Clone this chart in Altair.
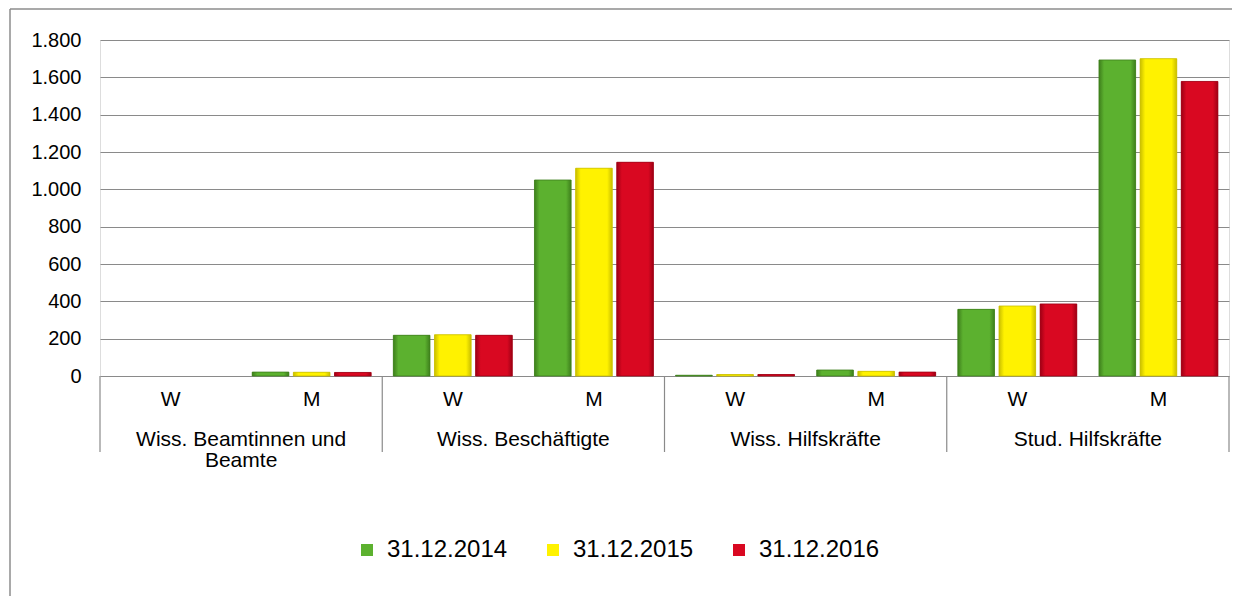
import altair as alt
import pandas as pd

groups = ["Wiss. Beamtinnen und Beamte", "Wiss. Beschäftigte", "Wiss. Hilfskräfte", "Stud. Hilfskräfte"]
group_labels = ["Wiss. Beamtinnen und\nBeamte", "Wiss. Beschäftigte", "Wiss. Hilfskräfte", "Stud. Hilfskräfte"]
sexes = ["W", "M"]
dates = ["31.12.2014", "31.12.2015", "31.12.2016"]
colors = ["#5CB12F", "#FFF200", "#D90821"]
dark = ["#3E7F1C", "#C9BE00", "#9E0014"]

v2014 = [0, 21, 218, 1050, 4, 32, 357, 1693]
v2015 = [0, 20, 221, 1113, 8, 25, 375, 1700]
v2016 = [0, 19, 218, 1145, 8, 21, 386, 1578]
yticks = [0, 200, 400, 600, 800, 1000, 1200, 1400, 1600, 1800]

keys = [f"{g}|{s}" for g in groups for s in sexes]
rows = []
for d, vals in zip(dates, [v2014, v2015, v2016]):
    for k, v in zip(keys, vals):
        rows.append({"key": k, "date": d, "value": v})
df = pd.DataFrame(rows)

FONT = "Liberation Sans"
W, H = 1129, 336

xs = alt.Scale(domain=keys, paddingInner=0, paddingOuter=0)
xo = alt.Scale(domain=dates, paddingInner=0.11, paddingOuter=0.27)
ys = alt.Scale(domain=[0, 1800], nice=False)

X = alt.X("key:N", scale=xs, axis=None)
XO = alt.XOffset("date:N", scale=xo)
Y = alt.Y("value:Q", scale=ys, title=None,
          axis=alt.Axis(values=yticks, grid=True, gridColor="#8A8A8A", gridWidth=1.2,
                        domain=False, ticks=False, tickSize=0, labelPadding=19,
                        labelFontSize=20, labelOverlap=False,
                        labelColor="#000000", labelFont=FONT,
                        labelExpr="replace(format(datum.value, ','), ',', '.')"))

base = alt.Chart(df).mark_bar().encode(
    x=X, xOffset=XO, y=Y,
    color=alt.Color("date:N", scale=alt.Scale(domain=dates, range=colors),
                    legend=alt.Legend(title=None, orient="none", direction="horizontal",
                                      legendX=255, legendY=498, symbolType="square",
                                      symbolSize=144, labelFontSize=24, labelFont=FONT,
                                      labelColor="#000000", labelOffset=8, columnPadding=33,
                                      symbolStrokeWidth=0, symbolOpacity=1))
)

layers = [base]
for d, c, dk in zip(dates, colors, dark):
    grad = alt.Gradient(gradient="linear", x1=0, x2=1, y1=0, y2=0,
                        stops=[alt.GradientStop(color=dk, offset=0),
                               alt.GradientStop(color=c, offset=0.14),
                               alt.GradientStop(color=c, offset=0.86),
                               alt.GradientStop(color=dk, offset=1)])
    layers.append(
        alt.Chart(df[(df["date"] == d) & (df["value"] > 0)]).mark_bar(
            color=grad, stroke=dk, strokeWidth=0.8).encode(x=X, xOffset=XO, y=Y)
    )

# category sub labels (W / M)
sub_df = pd.DataFrame({"key": keys, "sex": [k.split("|")[1] for k in keys]})
sub_text = alt.Chart(sub_df).mark_text(fontSize=21, font=FONT, color="#000000",
                                       baseline="middle").encode(
    x=alt.X("key:N", scale=xs, axis=None), y=alt.value(H + 24), text="sex:N")

grp_df = pd.DataFrame({"key": [f"{g}|W" for g in groups], "label": group_labels})
grp_text = alt.Chart(grp_df).mark_text(fontSize=21, font=FONT, color="#000000",
                                       baseline="top", lineBreak="\n", lineHeight=21,
                                       dx=W / 16).encode(
    x=alt.X("key:N", scale=xs, axis=None), y=alt.value(H + 53), text="label:N")

sep_df = pd.DataFrame({"key": [f"{g}|W" for g in groups]})
sep = alt.Chart(sep_df).mark_rule(color="#8A8A8A", strokeWidth=1.2).encode(
    x=alt.X("key:N", scale=xs, axis=None, bandPosition=0),
    y=alt.value(H), y2=alt.value(H + 76))
sep_end = alt.Chart(pd.DataFrame({"key": [keys[-1]]})).mark_rule(color="#8A8A8A", strokeWidth=1.2).encode(
    x=alt.X("key:N", scale=xs, axis=None, bandPosition=1),
    y=alt.value(H), y2=alt.value(H + 76))

frame_df = pd.DataFrame({"a": [0]})
frame_top = alt.Chart(frame_df).mark_rule(color="#8C8C8C", strokeWidth=1.5).encode(
    x=alt.value(-90), x2=alt.value(W + 3), y=alt.value(-31), y2=alt.value(-31))
frame_left = alt.Chart(frame_df).mark_rule(color="#8C8C8C", strokeWidth=1.5).encode(
    x=alt.value(-90), x2=alt.value(-90), y=alt.value(-31), y2=alt.value(600))

chart = alt.layer(frame_top, frame_left, *layers, sep, sep_end, sub_text, grp_text).properties(
    width=W, height=H,
    autosize=alt.AutoSizeParams(type="none"),
    padding={"left": 92, "top": 32, "right": 3, "bottom": 220},
).configure_view(strokeWidth=0, stroke="transparent").configure(font=FONT)

chart.save("out.html", embed_options={"renderer": "svg", "actions": False})
